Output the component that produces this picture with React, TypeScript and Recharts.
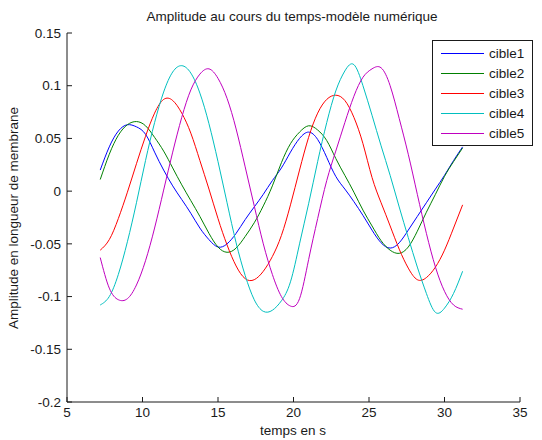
import { Legend, Line, LineChart, XAxis, YAxis } from "recharts";

/* sample times (s) */
const TIME = [
  7.2, 7.8, 8.4, 9.0, 9.6, 10.2, 10.8, 11.4, 12.0, 12.6, 13.2, 13.8, 14.4, 15.0,
  15.6, 16.2, 16.8, 17.4, 18.0, 18.6, 19.2, 19.8, 20.4, 21.0, 21.6, 22.2, 22.8,
  23.4, 24.0, 24.6, 25.2, 25.8, 26.4, 27.0, 27.6, 28.2, 28.8, 29.4, 30.0, 30.6,
  31.2,
];

const CIBLE1 = [
  0.02, 0.042, 0.057, 0.063, 0.061, 0.054, 0.037, 0.02, 0.005, -0.008, -0.021,
  -0.035, -0.046, -0.053, -0.05, -0.04, -0.027, -0.015, -0.003, 0.01, 0.022,
  0.037, 0.05, 0.056, 0.049, 0.032, 0.014, 0.002, -0.01, -0.023, -0.037, -0.049,
  -0.054, -0.049, -0.037, -0.024, -0.011, 0.002, 0.015, 0.029, 0.042,
];
const CIBLE2 = [
  0.011, 0.035, 0.053, 0.063, 0.066, 0.062, 0.051, 0.038, 0.022, 0.006, -0.009,
  -0.024, -0.04, -0.053, -0.058, -0.054, -0.043, -0.03, -0.014, 0.005, 0.027,
  0.045, 0.056, 0.062, 0.058, 0.048, 0.031, 0.015, -0.001, -0.018, -0.033,
  -0.047, -0.056, -0.059, -0.053, -0.038, -0.02, -0.003, 0.014, 0.028, 0.041,
];
const CIBLE3 = [
  -0.056, -0.046, -0.026, -0.001, 0.026, 0.052, 0.074, 0.087, 0.086, 0.074,
  0.055, 0.029, 0.002, -0.026, -0.051, -0.071, -0.083, -0.084, -0.076, -0.062,
  -0.042, -0.013, 0.02, 0.051, 0.074, 0.087, 0.091, 0.086, 0.07, 0.045, 0.013,
  -0.011, -0.033, -0.055, -0.073, -0.084, -0.082, -0.072, -0.056, -0.035,
  -0.013,
];
const CIBLE4 = [
  -0.108, -0.1, -0.079, -0.048, -0.011, 0.029, 0.065, 0.094, 0.113, 0.119,
  0.112, 0.093, 0.064, 0.028, -0.011, -0.049, -0.08, -0.103, -0.114, -0.113,
  -0.104, -0.086, -0.05, -0.012, 0.028, 0.065, 0.095, 0.114, 0.12, 0.1, 0.072,
  0.043, 0.015, -0.015, -0.044, -0.072, -0.097, -0.115, -0.111, -0.097, -0.076,
];
const CIBLE5 = [
  -0.063, -0.092, -0.103, -0.102, -0.089, -0.066, -0.035, 0.001, 0.037, 0.07,
  0.096, 0.111, 0.116, 0.107, 0.088, 0.059, 0.023, -0.014, -0.05, -0.079, -0.1,
  -0.109, -0.102, -0.065, -0.026, 0.01, 0.038, 0.065, 0.09, 0.108, 0.116, 0.117,
  0.1, 0.069, 0.035, -0.003, -0.04, -0.072, -0.095, -0.108, -0.112,
];

const SERIES_NAMES = ["cible1", "cible2", "cible3", "cible4", "cible5"];
const X_TICKS = [5, 10, 15, 20, 25, 30, 35];
const Y_TICKS = [-0.2, -0.15, -0.1, -0.05, 0, 0.05, 0.1, 0.15];

/* MATLAB default line order */
const COLORS = ["#0000ff", "#008000", "#ff0000", "#00bfbf", "#bf00bf"];
const FONT = '"Liberation Sans", Arial, sans-serif';
const INK = "#1a1a1a";
const FONT_SIZE = 13.5;

const W = 542;
const H = 440;
const LEFT = 67;
const TOP = 33;
const BOTTOM = 402;

const data = TIME.map((t, i) => ({
  t,
  cible1: CIBLE1[i],
  cible2: CIBLE2[i],
  cible3: CIBLE3[i],
  cible4: CIBLE4[i],
  cible5: CIBLE5[i],
}));

/* ticks point inward, like MATLAB */
function XTick({ x, y, payload }: { x?: number; y?: number; payload?: { value: number } }) {
  if (x == null || y == null || !payload) return null;
  return (
    <g>
      <line x1={x} y1={y} x2={x} y2={y - 5} stroke={INK} />
      <text x={x} y={y + 15} textAnchor="middle" fill={INK} fontSize={FONT_SIZE} fontFamily={FONT}>
        {payload.value}
      </text>
    </g>
  );
}

function YTick({ x, y, payload }: { x?: number; y?: number; payload?: { value: number } }) {
  if (x == null || y == null || !payload) return null;
  return (
    <g>
      <line x1={x} y1={y} x2={x + 5} y2={y} stroke={INK} />
      <text x={x - 6} y={y} dy="0.35em" textAnchor="end" fill={INK} fontSize={FONT_SIZE} fontFamily={FONT}>
        {payload.value}
      </text>
    </g>
  );
}

function LegendBox() {
  return (
    <div
      style={{
        border: `1px solid ${INK}`,
        background: "#fff",
        width: 99,
        padding: "2px 0",
        fontFamily: FONT,
        fontSize: FONT_SIZE,
        color: INK,
      }}
    >
      {SERIES_NAMES.map((name, i) => (
        <div key={name} style={{ display: "flex", alignItems: "center", height: 20 }}>
          <svg width={43} height={20} style={{ marginLeft: 8, marginRight: 5, display: "block" }}>
            <line x1={0} y1={10.5} x2={43} y2={10.5} stroke={COLORS[i]} strokeWidth={1} />
          </svg>
          <span>{name}</span>
        </div>
      ))}
    </div>
  );
}

export default function App() {
  return (
    <div style={{ position: "absolute", left: 0, top: 0, width: W, height: H, background: "#fff" }}>
      <LineChart width={W} height={H} data={data} margin={{ top: TOP, right: 22, bottom: 0, left: 0 }}>
        <XAxis
          dataKey="t"
          type="number"
          domain={[5, 35]}
          ticks={X_TICKS}
          height={H - BOTTOM}
          tickSize={0}
          tickMargin={0}
          tick={<XTick />}
          axisLine={{ stroke: INK }}
          interval={0}
        />
        <YAxis
          type="number"
          domain={[-0.2, 0.15]}
          ticks={Y_TICKS}
          width={LEFT}
          tickSize={0}
          tickMargin={0}
          tick={<YTick />}
          axisLine={{ stroke: INK }}
          interval={0}
          allowDataOverflow
        />
        <Legend
          layout="vertical"
          align="center"
          verticalAlign="middle"
          content={<LegendBox />}
          wrapperStyle={{ left: 432, top: 40, width: "auto" }}
        />
        {SERIES_NAMES.map((name, i) => (
          <Line
            key={name}
            type="natural"
            dataKey={name}
            name={name}
            stroke={COLORS[i]}
            strokeWidth={1}
            dot={false}
            activeDot={false}
            isAnimationActive={false}
          />
        ))}
        <text x={292} y={21} textAnchor="middle" fill={INK} fontSize={FONT_SIZE} fontFamily={FONT}>
          Amplitude au cours du temps-modèle numérique
        </text>
        <text x={293} y={435} textAnchor="middle" fill={INK} fontSize={FONT_SIZE} fontFamily={FONT}>
          temps en s
        </text>
        <text
          x={18}
          y={218}
          textAnchor="middle"
          transform="rotate(-90 18 218)"
          fill={INK}
          fontSize={FONT_SIZE}
          fontFamily={FONT}
        >
          Amplitude en longueur de membrane
        </text>
      </LineChart>
    </div>
  );
}
